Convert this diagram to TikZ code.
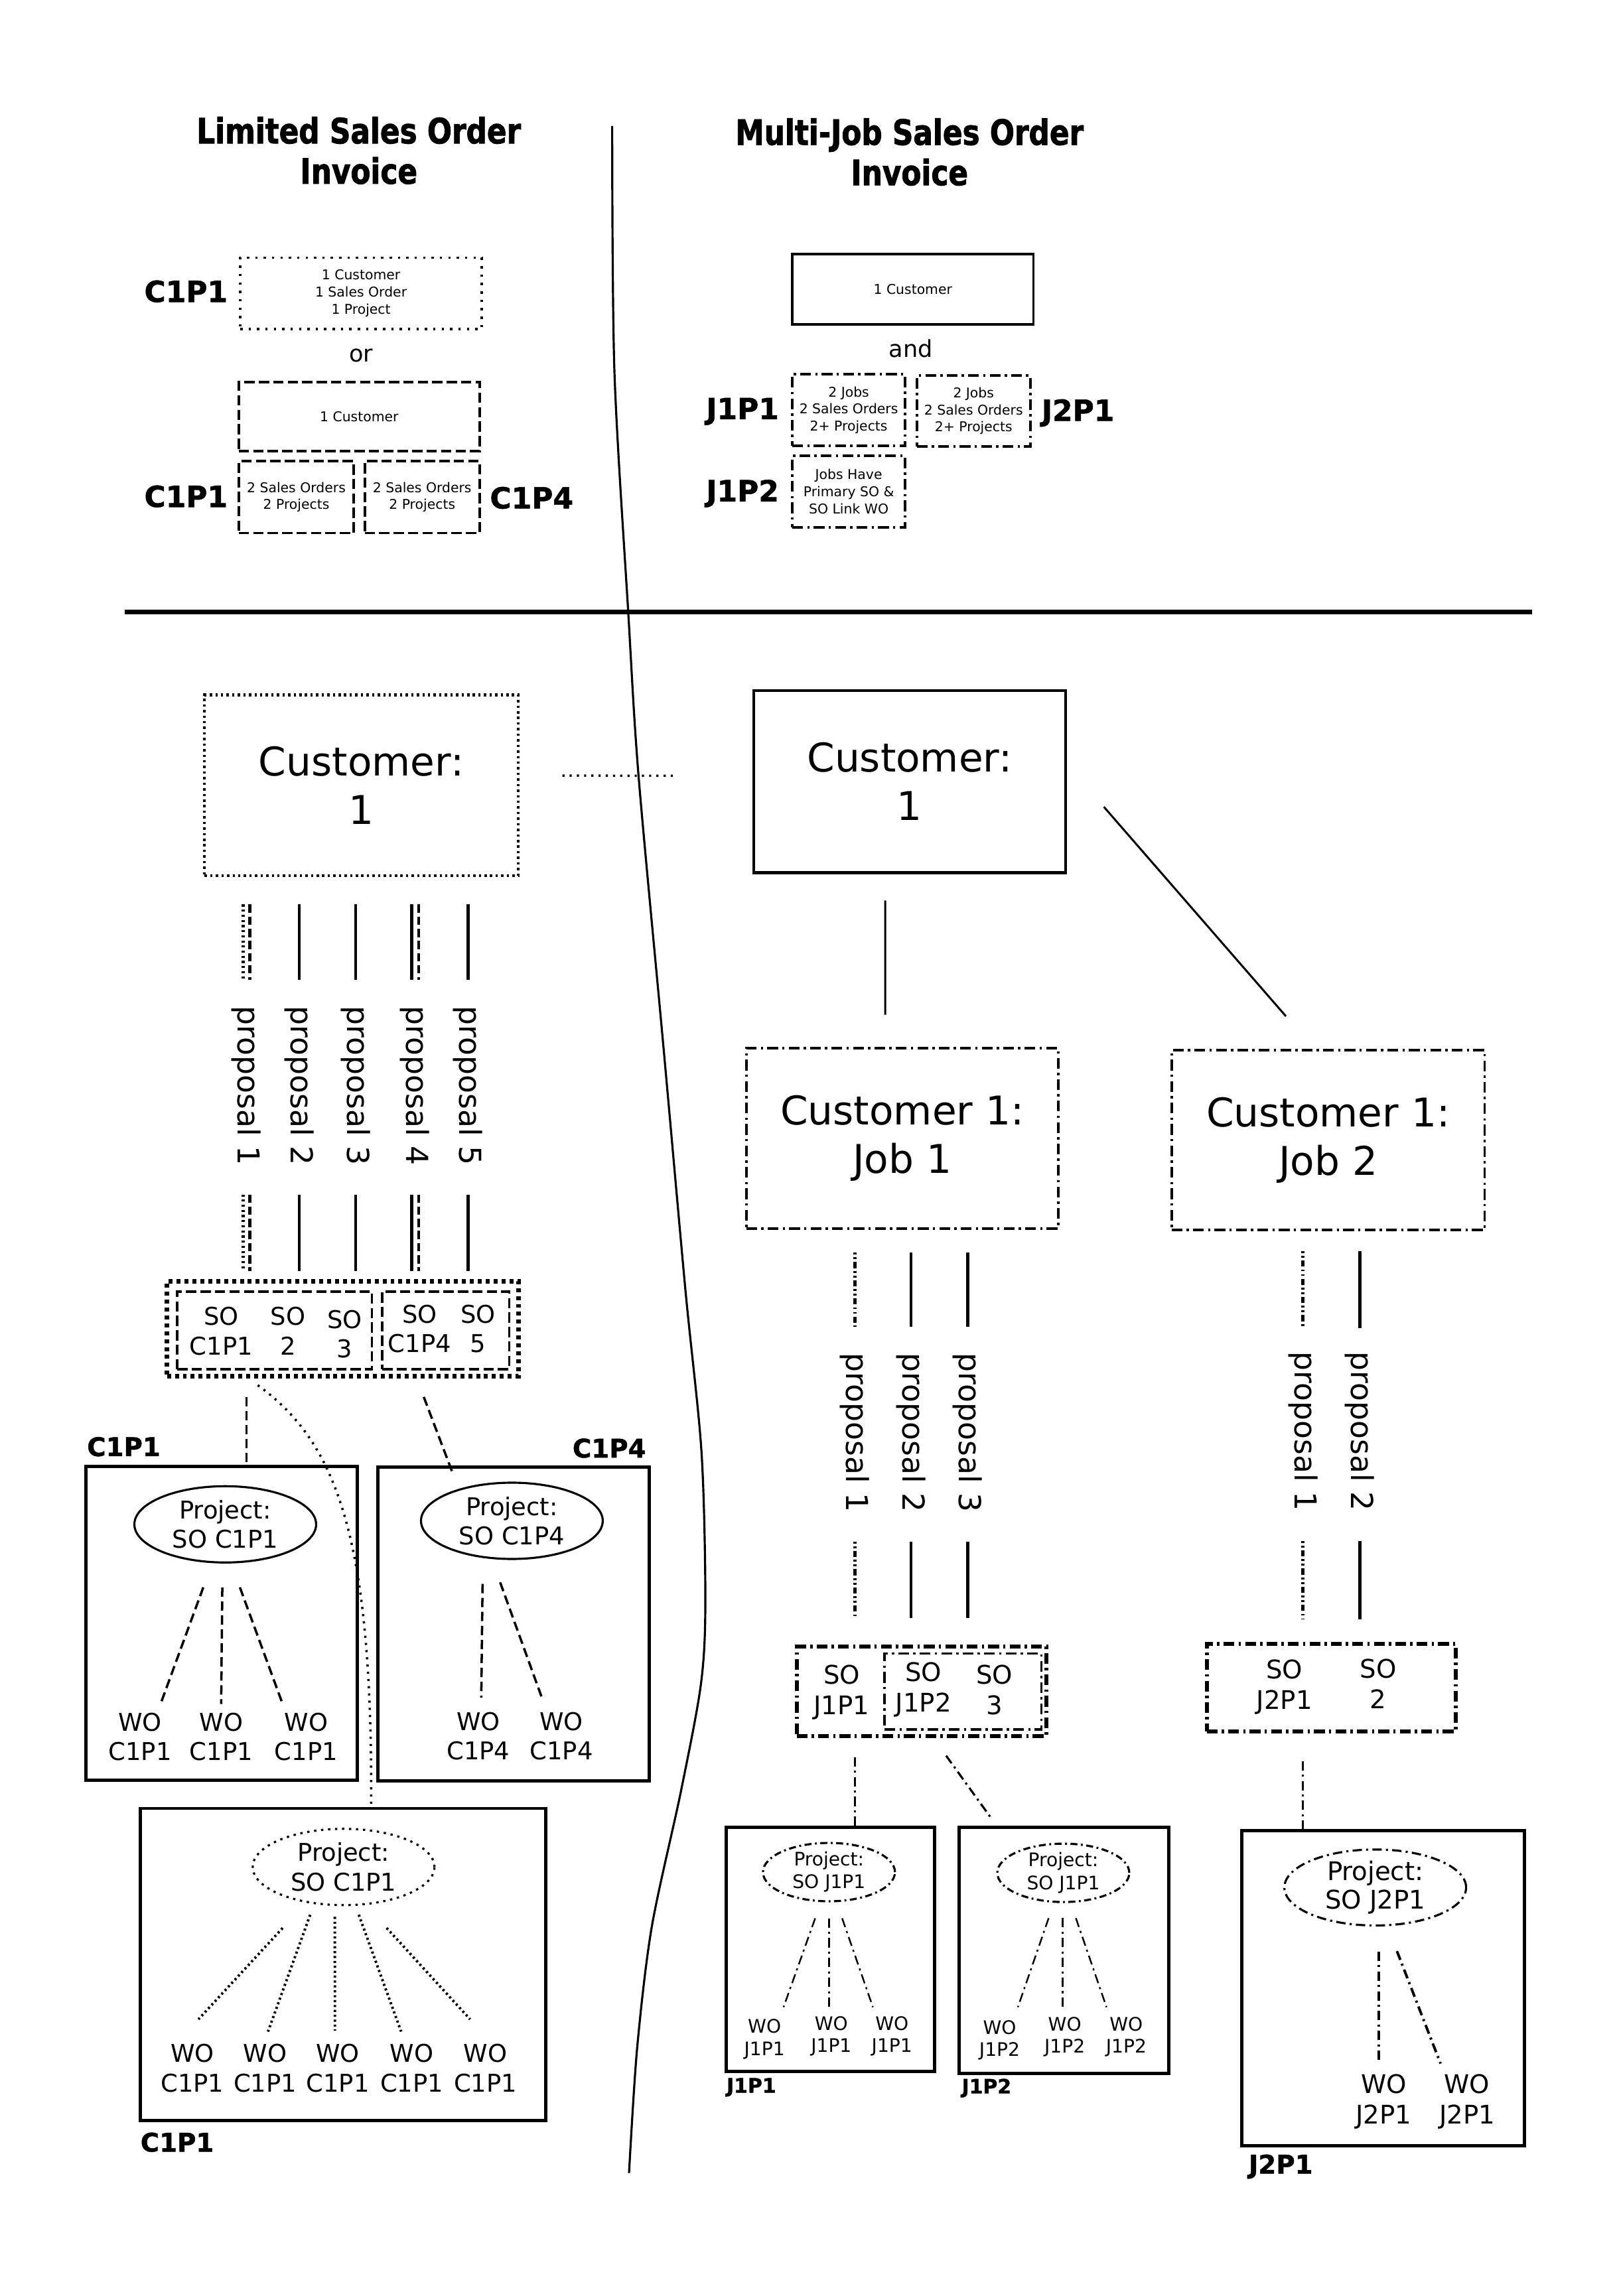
\documentclass[tikz,border=0pt]{standalone}
\usepackage{fontspec}
\setmainfont{DejaVu Sans}
\newfontfamily\headfont[BoldFeatures={FakeStretch=0.83, FakeBold=1.6}]{DejaVu Sans}
\newfontfamily\tagfont[BoldFeatures={FakeBold=1.2}]{DejaVu Sans}
\usetikzlibrary{positioning, shapes.geometric, fit, calc}

\begin{document}
\begin{tikzpicture}[
	x=0.2208mm, y=-0.2208mm,
	heading/.style={align=center, font=\headfont\bfseries\fontsize{15}{17.3}\selectfont},
	casetag/.style={font=\tagfont\bfseries\fontsize{12.5}{15}\selectfont},
	boxtag/.style={font=\tagfont\bfseries\fontsize{11}{13}\selectfont},
	minitag/.style={font=\tagfont\bfseries\fontsize{8.5}{10}\selectfont},
	word/.style={font=\fontsize{10}{12}\selectfont},
	tinytext/.style={align=center, font=\fontsize{5.8}{7.3}\selectfont},
	boxbase/.style={draw, rectangle, inner sep=0, outer sep=0},
	solidbox/.style={boxbase, line width=1pt},
	heavybox/.style={boxbase, line width=1.4pt},
	dotbox/.style={boxbase, line width=1pt, dash pattern=on 1pt off 2.6pt},
	finedotbox/.style={boxbase, line width=1.2pt, dash pattern=on 1pt off 1.4pt},
	heavydotbox/.style={boxbase, line width=2pt, dash pattern=on 1.7pt off 1.7pt},
	dashbox/.style={boxbase, line width=1.1pt, dash pattern=on 4.4pt off 1.8pt},
	dashdotbox/.style={boxbase, line width=1.1pt, dash pattern=on 4.6pt off 1.8pt on 1pt off 1.8pt},
	custtext/.style={align=center, font=\fontsize{17}{20.7}\selectfont},
	sotext/.style={align=center, inner sep=0, font=\fontsize{10.5}{12.6}\selectfont},
	jobsotext/.style={align=center, inner sep=0, font=\fontsize{11}{13.2}\selectfont},
	proplabel/.style={rotate=-90, inner sep=0, outer sep=0, font=\fontsize{13}{15}\selectfont},
	projoval/.style={ellipse, draw, line width=0.9pt, minimum width=27.4mm, minimum height=11.5mm, inner sep=0, outer sep=0, align=center, font=\fontsize{10.5}{12.6}\selectfont},
	smalloval/.style={projoval, minimum width=19.9mm, minimum height=8.8mm, font=\fontsize{8}{9.7}\selectfont},
	wotext/.style={align=center, inner sep=1pt, font=\fontsize{10.5}{12.6}\selectfont},
	smallwo/.style={wotext, font=\fontsize{8}{9.4}\selectfont},
	propline/.style={line width=1.3pt},
	propdash/.style={line width=1.3pt, dash pattern=on 3.6pt off 1.6pt},
	propdot/.style={line width=1.3pt, dash pattern=on 0.9pt off 1.3pt},
	propdashdot/.style={line width=1.3pt, dash pattern=on 0.8pt off 1.2pt on 0.8pt off 1.2pt on 2.6pt off 1.2pt},
	thinline/.style={line width=0.85pt},
	dashline/.style={line width=1pt, dash pattern=on 4pt off 2pt},
	dotline/.style={line width=1pt, dash pattern=on 0.9pt off 2.2pt},
	fandot/.style={line width=1.1pt, dash pattern=on 0.9pt off 1.2pt},
	dashdotline/.style={line width=0.9pt, dash pattern=on 4pt off 1.8pt on 0.9pt off 1.8pt}
]
	\useasboundingbox (0,0) rectangle (1105,1568);

	% headings
	\node[heading] (limTitle) at (245,102.8) {Limited Sales Order\\Invoice};
	\node[heading] (mjTitle) at (621,103.8) {Multi-Job Sales Order\\Invoice};

	% limited cases
	\node[dotbox, fit={(164,176) (329,224.6)}] (limOne) {};
	\node[tinytext] (limOneText) at (limOne.center) {1 Customer\\1 Sales Order\\1 Project};
	\node[casetag] (tagLimA) at (127,199) {C1P1};
	\node[word] (orWord) at (246.5,243) {or};
	\node[dashbox, fit={(163,261) (327.5,308)}] (limCust) {};
	\node[tinytext] (limCustText) at (limCust.center) {1 Customer};
	\node[dashbox, fit={(163,315) (241.6,364)}] (limSoA) {};
	\node[tinytext] (limSoAText) at (limSoA.center) {2 Sales Orders\\2 Projects};
	\node[dashbox, fit={(249,315) (327.5,364)}] (limSoB) {};
	\node[tinytext] (limSoBText) at (limSoB.center) {2 Sales Orders\\2 Projects};
	\node[casetag] (tagLimB) at (127,339) {C1P1};
	\node[casetag] (tagLimC) at (363,340) {C1P4};

	% multi-job cases
	\node[solidbox, fit={(541,173.4) (705.6,221.5)}] (mjCust) {};
	\node[tinytext] (mjCustText) at (mjCust.center) {1 Customer};
	\node[word] (andWord) at (622,238) {and};
	\node[dashdotbox, fit={(541,255.5) (618,304.6)}] (mjJobA) {};
	\node[tinytext] (mjJobAText) at (mjJobA.center) {2 Jobs\\2 Sales Orders\\2+ Projects};
	\node[dashdotbox, fit={(626,256.5) (703.5,305)}] (mjJobB) {};
	\node[tinytext] (mjJobBText) at (mjJobB.center) {2 Jobs\\2 Sales Orders\\2+ Projects};
	\node[dashdotbox, fit={(541,311.4) (618,360)}] (mjLink) {};
	\node[tinytext] (mjLinkText) at (mjLink.center) {Jobs Have\\Primary SO \&\\SO Link WO};
	\node[casetag] (tagMjA) at (507,281) {J1P1};
	\node[casetag] (tagMjB) at (736,282) {J2P1};
	\node[casetag] (tagMjC) at (507,337) {J1P2};

	% dividers
	\draw[line width=1.8pt] (85,418) -- (1046,418);
	\draw[line width=0.9pt] plot[smooth] coordinates {(418,86) (419.5,253) (429,419) (436,530) (453,715) (468,881) (479,992) (481.6,1094) (478.6,1150) (465,1223) (445,1316) (435,1399) (429.5,1484)};

	% customers
	\node[finedotbox, fit={(139.7,474.6) (353.7,598)}] (custL) {};
	\node[custtext] (custLText) at (custL.center) {Customer:\\1};
	\node[solidbox, line width=1.2pt, fit={(514.5,471.5) (727.7,596)}] (custR) {};
	\node[custtext] (custRText) at (custR.center) {Customer:\\1};
	\draw[dotline] ($(custL.east)+(30.3,-6.6)$) -- ($(custR.west)+(-52.5,-4)$);

	% limited: proposals and sales orders
	\node[proplabel] (p1) at (168.3,741.5) {proposal 1};
	\node[proplabel] (p2) at (204.4,741.5) {proposal 2};
	\node[proplabel] (p3) at (242.9,741.5) {proposal 3};
	\node[proplabel] (p4) at (283.4,741.5) {proposal 4};
	\node[proplabel] (p5) at (319.6,741.5) {proposal 5};

	\node[heavydotbox, fit={(114,875) (354,940)}] (soOut) {};
	\node[dashbox, line width=1pt, fit={(121,882) (254,935)}] (soInA) {};
	\node[dashbox, line width=1pt, fit={(261,882) (347.7,935)}] (soInB) {};
	\node[sotext] (soC1P1) at (151,909) {SO\\C1P1};
	\node[sotext] (soTwo) at (196.6,909) {SO\\2};
	\node[sotext] (soThree) at (235.3,911) {SO\\3};
	\node[sotext] (soC1P4) at (286.5,907.5) {SO\\C1P4};
	\node[sotext] (soFive) at (326.5,907.5) {SO\\5};

	\draw[propdot, transform canvas={xshift=-0.5mm}, shorten <=4.35mm, shorten >=4mm] (p1 |- custL.south) -- (p1.west);
	\draw[propdash, transform canvas={xshift=0.5mm}, shorten <=4.35mm, shorten >=4mm] (p1 |- custL.south) -- (p1.west);
	\draw[propline, shorten <=4.35mm, shorten >=4mm] (p2 |- custL.south) -- (p2.west);
	\draw[propline, shorten <=4.35mm, shorten >=4mm] (p3 |- custL.south) -- (p3.west);
	\draw[propline, transform canvas={xshift=-0.53mm}, shorten <=4.35mm, shorten >=4mm] (p4 |- custL.south) -- (p4.west);
	\draw[propdash, transform canvas={xshift=0.53mm}, shorten <=4.35mm, shorten >=4mm] (p4 |- custL.south) -- (p4.west);
	\draw[propline, shorten <=4.35mm, shorten >=4mm] (p5 |- custL.south) -- (p5.west);

	\draw[propdot, transform canvas={xshift=-0.5mm}, shorten <=4.4mm, shorten >=1.55mm] (p1.east) -- (p1 |- soOut.north);
	\draw[propdash, transform canvas={xshift=0.5mm}, shorten <=4.4mm, shorten >=1.55mm] (p1.east) -- (p1 |- soOut.north);
	\draw[propline, shorten <=4.4mm, shorten >=1.55mm] (p2.east) -- (p2 |- soOut.north);
	\draw[propline, shorten <=4.4mm, shorten >=1.55mm] (p3.east) -- (p3 |- soOut.north);
	\draw[propline, transform canvas={xshift=-0.53mm}, shorten <=4.4mm, shorten >=1.55mm] (p4.east) -- (p4 |- soOut.north);
	\draw[propdash, transform canvas={xshift=0.53mm}, shorten <=4.4mm, shorten >=1.55mm] (p4.east) -- (p4 |- soOut.north);
	\draw[propline, shorten <=4.4mm, shorten >=1.55mm] (p5.east) -- (p5 |- soOut.north);

	% limited: projects
	\node[heavybox, fit={(58.6,1001.5) (243.8,1215.8)}] (boxA) {};
	\node[boxtag] (tagA) at (84.5,988) {C1P1};
	\node[projoval] (prjA) at (153.8,1041) {Project:\\SO C1P1};
	\node[wotext] (woA1) at (95.6,1186) {WO\\C1P1};
	\node[wotext] (woA2) at (151,1186) {WO\\C1P1};
	\node[wotext] (woA3) at (209,1186) {WO\\C1P1};

	\node[heavybox, fit={(258,1002) (443.4,1216)}] (boxB) {};
	\node[boxtag] (tagB) at (416,989) {C1P4};
	\node[projoval] (prjB) at (349.5,1038.6) {Project:\\SO C1P4};
	\node[wotext] (woB1) at (326.6,1185.5) {WO\\C1P4};
	\node[wotext] (woB2) at (383.3,1185.5) {WO\\C1P4};

	\node[heavybox, fit={(96,1235) (372.8,1448)}] (boxC) {};
	\node[boxtag] (tagC) at (121,1463) {C1P1};
	\node[projoval, dash pattern=on 1pt off 2pt] (prjC) at (234.6,1275) {Project:\\SO C1P1};
	\node[wotext, font=\fontsize{10.5}{13}\selectfont] (woC1) at (131.3,1412.4) {WO\\C1P1};
	\node[wotext, font=\fontsize{10.5}{13}\selectfont] (woC2) at (181,1412.4) {WO\\C1P1};
	\node[wotext, font=\fontsize{10.5}{13}\selectfont] (woC3) at (230.7,1412.4) {WO\\C1P1};
	\node[wotext, font=\fontsize{10.5}{13}\selectfont] (woC4) at (281.2,1412.4) {WO\\C1P1};
	\node[wotext, font=\fontsize{10.5}{13}\selectfont] (woC5) at (331.4,1412.4) {WO\\C1P1};

	\draw[dashline, shorten <=3.1mm] (p1 |- soOut.south) -- (p1 |- boxA.north);
	\draw[dashline] ($(soInB.south)+(-15,19)$) -- ($(boxB.north)+(-42,3)$);
	\coordinate (linkTop) at ($(soOut.south)+(-58,6)$);
	\coordinate (linkEnd) at ($(boxC.north)+(19,-2)$);
	\draw[dotline] (linkTop) .. controls ($(linkTop)+(54,39)$) and ($(linkEnd)+(1,-183)$) .. (linkEnd);

	\draw[dashline] ($(prjA.south)+(-15,17)$) -- ($(woA1.north)+(14,-4)$);
	\draw[dashline] ($(prjA.south)+(-2,17)$) -- ($(woA2.north)+(0,-4)$);
	\draw[dashline] ($(prjA.south)+(10,17)$) -- ($(woA3.north)+(-16,-4)$);
	\draw[dashline] ($(prjB.south)+(-20,17)$) -- ($(woB1.north)+(2,-8)$);
	\draw[dashline] ($(prjB.south)+(-8,16)$) -- ($(woB2.north)+(-13,-7)$);
	\draw[fandot] ($(prjC.south)+(-41.6,15.6)$) -- ($(woC1.north)+(4.2,-14.8)$);
	\draw[fandot] ($(prjC.south)+(-22.8,6.6)$) -- ($(woC2.north)+(2,-6.4)$);
	\draw[fandot] ($(prjC.south)+(-6,8)$) -- ($(woC3.north)+(-2,-7)$);
	\draw[fandot] ($(prjC.south)+(10.4,6.6)$) -- ($(woC4.north)+(-7.3,-6.4)$);
	\draw[fandot] ($(prjC.south)+(29.4,15.6)$) -- ($(woC5.north)+(-10.4,-14.8)$);

	% multi-job: jobs
	\node[dashdotbox, fit={(509.6,716) (722.5,839)}] (jobA) {};
	\node[custtext] (jobAText) at (jobA.center) {Customer 1:\\Job 1};
	\node[dashdotbox, fit={(800,717.3) (1013.7,840)}] (jobB) {};
	\node[custtext] (jobBText) at (jobB.center) {Customer 1:\\Job 2};
	\draw[thinline] ($(custR.south)+(-16.7,19)$) -- ($(jobA.north)+(-11.6,-23)$);
	\draw[thinline] ($(custR.east)+(26,17.25)$) -- ($(jobB.north)+(-28.85,-23.3)$);

	% multi-job: proposals and sales orders
	\node[proplabel] (q1) at (583.7,978.4) {proposal 1};
	\node[proplabel] (q2) at (622,978.4) {proposal 2};
	\node[proplabel] (q3) at (660.7,978.4) {proposal 3};
	\node[proplabel] (r1) at (889.6,977.5) {proposal 1};
	\node[proplabel] (r2) at (928.4,977.5) {proposal 2};

	\node[dashdotbox, line width=1.8pt, fit={(544,1124.6) (714.4,1185.5)}] (soJobA) {};
	\node[dashdotbox, line width=1pt, fit={(604,1129.3) (711,1181)}] (soJobAin) {};
	\node[jobsotext] (soJ1P1) at (574.7,1155.8) {SO\\J1P1};
	\node[jobsotext] (soJ1P2) at (630.6,1154) {SO\\J1P2};
	\node[jobsotext] (soJThree) at (679,1154) {SO\\3};
	\node[dashdotbox, line width=1.6pt, fit={(824,1122.7) (994,1182.3)}] (soJobB) {};
	\node[jobsotext] (soJ2P1) at (877,1152) {SO\\J2P1};
	\node[jobsotext] (soJTwo) at (941,1150) {SO\\2};

	\draw[propdashdot, shorten <=3.65mm, shorten >=3.95mm] (q1 |- jobA.south) -- (q1.west);
	\draw[propline, shorten <=3.65mm, shorten >=3.95mm] (q2 |- jobA.south) -- (q2.west);
	\draw[propline, shorten <=3.65mm, shorten >=3.95mm] (q3 |- jobA.south) -- (q3.west);
	\draw[propdashdot, shorten <=4.45mm, shorten >=4.35mm] (q1.east) -- (q1 |- soJobA.north);
	\draw[propline, shorten <=4.45mm, shorten >=4.35mm] (q2.east) -- (q2 |- soJobA.north);
	\draw[propline, shorten <=4.45mm, shorten >=4.35mm] (q3.east) -- (q3 |- soJobA.north);
	\draw[propdashdot, shorten <=3.2mm, shorten >=3.6mm] (r1 |- jobB.south) -- (r1.west);
	\draw[propline, shorten <=3.2mm, shorten >=3.6mm] (r2 |- jobB.south) -- (r2.west);
	\draw[propdashdot, shorten <=4.55mm, shorten >=3.7mm] (r1.east) -- (r1 |- soJobB.north);
	\draw[propline, shorten <=4.55mm, shorten >=3.7mm] (r2.east) -- (r2 |- soJobB.north);

	% multi-job: projects
	\node[heavybox, fit={(496,1248) (638,1414.5)}] (boxD) {};
	\node[minitag] (tagD) at (513,1425.5) {J1P1};
	\node[smalloval, dash pattern=on 3pt off 1.5pt on 0.8pt off 1.5pt] (prjD) at (566,1278.5) {Project:\\SO J1P1};
	\node[smallwo] (woD1) at (522,1392.6) {WO\\J1P1};
	\node[smallwo] (woD2) at (567.6,1390.6) {WO\\J1P1};
	\node[smallwo] (woD3) at (609,1390.6) {WO\\J1P1};

	\node[heavybox, fit={(655,1248) (798,1416)}] (boxE) {};
	\node[minitag] (tagE) at (673.6,1426) {J1P2};
	\node[smalloval, dash pattern=on 3pt off 1.5pt on 0.8pt off 1.5pt] (prjE) at (726,1279) {Project:\\SO J1P1};
	\node[smallwo] (woE1) at (682.5,1393.1) {WO\\J1P2};
	\node[smallwo] (woE2) at (727,1391.1) {WO\\J1P2};
	\node[smallwo] (woE3) at (769,1391.1) {WO\\J1P2};

	\node[heavybox, fit={(848,1250) (1041,1465.5)}] (boxF) {};
	\node[boxtag] (tagF) at (874.5,1479.6) {J2P1};
	\node[projoval, dash pattern=on 4pt off 1.8pt on 0.9pt off 1.8pt, minimum height=11.3mm, font=\fontsize{11}{12.5}\selectfont] (prjF) at (939,1289) {Project:\\SO J2P1};
	\node[wotext, font=\fontsize{11}{13.3}\selectfont] (woF1) at (944.8,1435.2) {WO\\J2P1};
	\node[wotext, font=\fontsize{11}{13.3}\selectfont] (woF2) at (1001.7,1435.2) {WO\\J2P1};

	\draw[dashdotline, shorten <=3.2mm] (q1 |- soJobA.south) -- (q1 |- boxD.north);
	\draw[dashdotline] ($(soJobA.south)+(16.8,13.5)$) -- ($(boxE.north)+(-49.5,-6)$);
	\draw[dashdotline, shorten <=4.5mm] (r1 |- soJobB.south) -- (r1 |- boxF.north);

	\draw[dashdotline, line width=0.7pt] ($(prjD.south)+(-9.4,11.6)$) -- ($(woD1.north)+(13,-6.5)$);
	\draw[dashdotline, line width=0.7pt] ($(prjD.south)+(0,11.6)$) -- ($(woD2.north)+(-1.6,-4.5)$);
	\draw[dashdotline, line width=0.7pt] ($(prjD.south)+(9,11.6)$) -- ($(woD3.north)+(-13,-4.5)$);
	\draw[dashdotline, line width=0.7pt] ($(prjE.south)+(-10,11)$) -- ($(woE1.north)+(12.5,-7)$);
	\draw[dashdotline, line width=0.7pt] ($(prjE.south)+(-0.4,11)$) -- ($(woE2.north)+(-1.4,-5)$);
	\draw[dashdotline, line width=0.7pt] ($(prjE.south)+(8.6,11)$) -- ($(woE3.north)+(-13.5,-5)$);
	\draw[dashdotline, line width=1.1pt] ($(prjF.south)+(2.6,17.8)$) -- ($(woF1.north)+(-3.2,-5.2)$);
	\draw[dashdotline, line width=1.1pt] ($(prjF.south)+(14.8,17.5)$) -- ($(woF2.north)+(-18.1,-5.2)$);
\end{tikzpicture}
\end{document}
